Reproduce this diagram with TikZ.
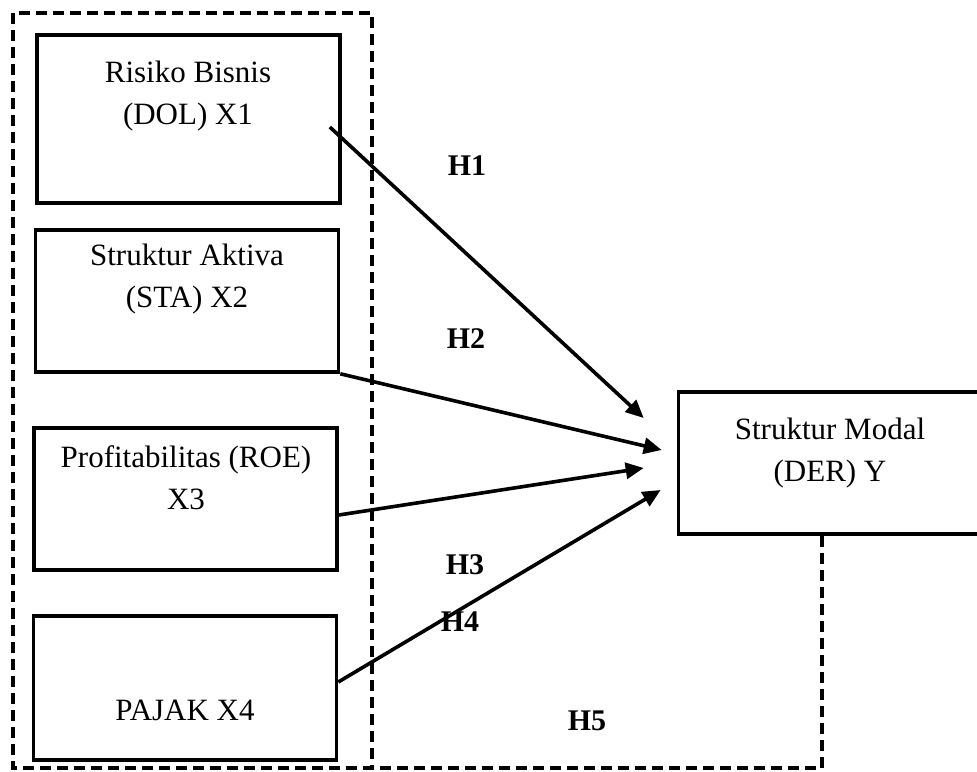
\documentclass[tikz,border=0pt]{standalone}
\usepackage{fontspec}
\setmainfont{Liberation Serif}
\usepackage{tikz}
\usetikzlibrary{arrows.meta, positioning, calc}

\begin{document}
\begin{tikzpicture}[x=1pt, y=-1pt,
  box/.style={rectangle, draw=black, line width=3.6pt, minimum width=303pt,
              minimum height=142pt, inner sep=0pt},
  txt/.style={align=center, inner sep=0pt, font=\fontsize{31}{42}\selectfont},
  hyp/.style={inner sep=0pt, font=\fontsize{30}{36}\selectfont\bfseries},
  arr/.style={-{Triangle[length=18pt, width=16pt]}, line width=3.6pt},
  frame/.style={line width=3.4pt, dash pattern=on 11pt off 6pt}
]
  \useasboundingbox (0,0) rectangle (977,771);

  \node[box, minimum height=168pt] (x1) at (188.5,119) {};
  \node[box] (x2) at (187,301) {};
  \node[box] (x3) at (185.5,499) {};
  \node[box, minimum height=144pt] (x4) at (185,688) {};
  \node[box] (y)  at (830,463) {};

  \node[txt] (x1t) at (188,96)  {Risiko Bisnis\\(DOL) X1};
  \node[txt] (x2t) at (187,279) {Struktur Aktiva\\(STA) X2};
  \node[txt] (x3t) at (186,478) {Profitabilitas (ROE)\\X3};
  \node[txt] (x4t) at (185,710) {PAJAK X4};
  \node[txt] (yt)  at (830,453) {Struktur Modal\\(DER) Y};

  \coordinate (ylow) at ($(y.south)+(-8,0)$);
  \draw[frame] (ylow) -- (ylow |- 0,768) -- (13,768) -- (13,13) -- (372,13) -- (372,768);

  \draw[arr] ($(x1.east)+(-12,8)$) -- ($(y.west)+(-33,-45)$);
  \draw[arr] (x2.south east)       -- ($(y.west)+(-15,-13)$);
  \draw[arr] ($(x3.east)+(0,16)$)  -- ($(y.west)+(-33,5)$);
  \draw[arr] ($(x4.east)+(0,-6)$)  -- ($(y.west)+(-16,27)$);

  \node[hyp] (h1) at (467,166) {H1};
  \node[hyp] (h2) at (466,339) {H2};
  \node[hyp] (h3) at (465,565) {H3};
  \node[hyp] (h4) at (460,622) {H4};
  \node[hyp] (h5) at (587,721) {H5};
\end{tikzpicture}
\end{document}
